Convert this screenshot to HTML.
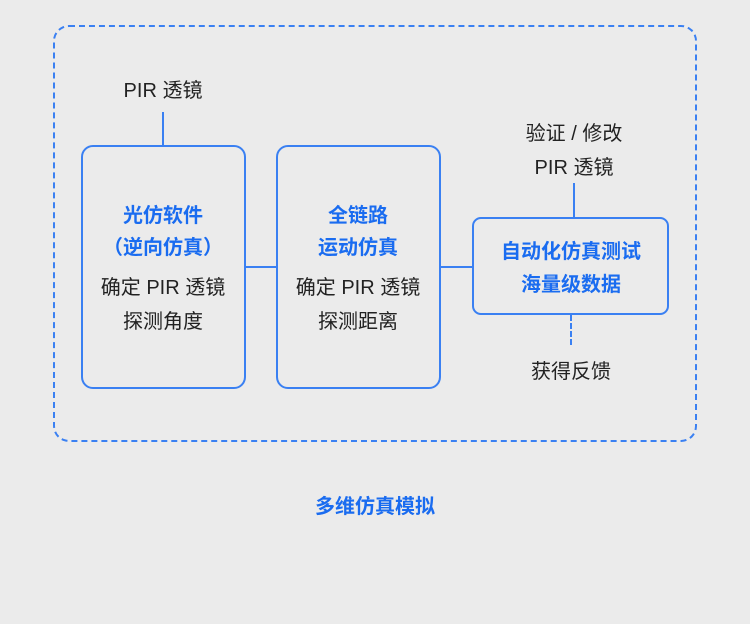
<!DOCTYPE html>
<html><head><meta charset="utf-8"><style>
body{margin:0;width:750px;height:624px;background:#ebebeb;font-family:"Liberation Sans","Noto Sans CJK SC",sans-serif;position:relative;overflow:hidden}
.a{position:absolute}
.t{position:absolute;font-size:20px;color:#222;white-space:nowrap;transform:translate(-50%,-50%);line-height:1}
.b{color:#1a6cf0;font-weight:bold}
.box{position:absolute;border:2px solid #3a80f2;border-radius:12px;box-sizing:border-box}
</style></head><body>
<div class="a" style="left:53px;top:25px;width:644px;height:417px;border:2px dashed #3a80f2;border-radius:16px;box-sizing:border-box"></div>
<div class="box" style="left:81px;top:145px;width:165px;height:244px"></div>
<div class="box" style="left:276px;top:145px;width:165px;height:244px"></div>
<div class="box" style="left:472px;top:217px;width:197px;height:98px;border-radius:9px"></div>
<div class="a" style="left:162px;top:112px;width:2px;height:34px;background:#3a80f2"></div>
<div class="a" style="left:245px;top:266px;width:32px;height:2px;background:#3a80f2"></div>
<div class="a" style="left:440px;top:266px;width:33px;height:2px;background:#3a80f2"></div>
<div class="a" style="left:573px;top:183px;width:2px;height:35px;background:#3a80f2"></div>
<div class="a" style="left:570px;top:315px;width:0;height:30px;border-left:2px dashed #3a80f2"></div>
<div class="t" style="left:163px;top:91px">PIR 透镜</div>
<div class="t b" style="left:163px;top:216px">光仿软件</div>
<div class="t b" style="left:163px;top:248px">（逆向仿真）</div>
<div class="t" style="left:163px;top:288px">确定 PIR 透镜</div>
<div class="t" style="left:163px;top:322px">探测角度</div>
<div class="t b" style="left:358px;top:216px">全链路</div>
<div class="t b" style="left:358px;top:248px">运动仿真</div>
<div class="t" style="left:358px;top:288px">确定 PIR 透镜</div>
<div class="t" style="left:358px;top:322px">探测距离</div>
<div class="t" style="left:574px;top:134px">验证 / 修改</div>
<div class="t" style="left:574px;top:168px">PIR 透镜</div>
<div class="t b" style="left:571px;top:252px">自动化仿真测试</div>
<div class="t b" style="left:571px;top:285px">海量级数据</div>
<div class="t" style="left:571px;top:372px">获得反馈</div>
<div class="t b" style="left:375px;top:507px">多维仿真模拟</div>
</body></html>
